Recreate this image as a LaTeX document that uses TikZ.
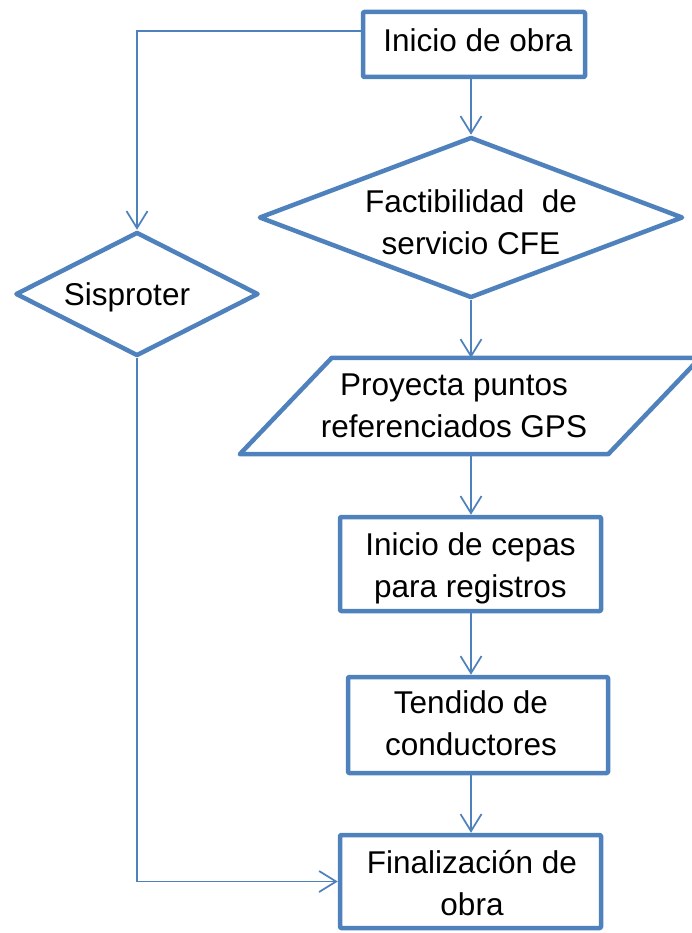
\documentclass[tikz,border=0pt]{standalone}
\usepackage{fontspec}
\setmainfont{Liberation Sans}
\usetikzlibrary{arrows.meta,shapes.geometric}
\definecolor{fcblue}{HTML}{4F81BD}
\tikzset{
  shapeline/.style={draw=fcblue, line width=4.5pt, line join=round},
  boxnode/.style={shapeline, rectangle, rounded corners=1pt, inner sep=0pt},
  decnode/.style={shapeline, diamond, inner sep=0pt},
  txt/.style={font=\fontsize{31.5}{42}\selectfont, align=center, inner sep=0pt, text=black},
  conn/.style={draw=fcblue, line width=1.75pt, -{Straight Barb[length=17pt,width=21pt,line width=1.75pt]}}
}
\begin{document}
\begin{tikzpicture}[x=1pt,y=-1pt]
\useasboundingbox (0,0) rectangle (691,933);

% shapes
\node[boxnode, minimum width=222pt, minimum height=65pt,
      label={[txt, xshift=4pt, yshift=4pt]center:Inicio de obra}] (inicio) at (474,44.5) {};
\node[decnode, aspect=2.63, minimum width=424pt, minimum height=161pt,
      label={[txt, yshift=-4.5pt]center:Factibilidad\ \ de\\servicio CFE}] (fact) at (471,217.5) {};
\node[decnode, aspect=1.96, minimum width=243pt, minimum height=124pt,
      label={[txt, xshift=-10pt, yshift=-3pt]center:Sisproter}] (sis) at (137,294) {};
\node[rectangle, inner sep=0pt, minimum width=368pt, minimum height=96pt,
      label={[txt, xshift=-16pt]center:Proyecta puntos\\referenciados GPS}] (para) at (470,406) {};
\draw[shapeline]
  ([xshift=-46pt]para.south west) -- ([xshift=-46pt]para.south east)
  -- ([xshift=46pt]para.north east) -- ([xshift=46pt]para.north west) -- cycle;
\node[boxnode, minimum width=261pt, minimum height=94pt,
      label={[txt, yshift=-4pt]center:Inicio de cepas\\para registros}] (cepas) at (470.5,564) {};
\node[boxnode, minimum width=260pt, minimum height=96pt,
      label={[txt, xshift=-7pt, yshift=1.5pt]center:Tendido de\\conductores}] (tend) at (478,725) {};
\node[boxnode, minimum width=261pt, minimum height=93pt,
      label={[txt, xshift=1.5pt, yshift=-2pt]center:Finalización de\\obra}] (fin) at (470.5,881.5) {};

% connectors
\draw[conn] (inicio.south -| fact.north) -- (fact.north);
\draw[conn] (fact.south) -- (para.north -| fact.north);
\draw[conn] (para.south -| fact.north) -- (cepas.north -| fact.north);
\draw[conn] (cepas.south -| fact.north) -- (tend.north -| fact.north);
\draw[conn] (tend.south -| fact.north) -- (fin.north -| fact.north);
\draw[conn] ([yshift=13.5pt]inicio.west) -| (sis.north);
\draw[conn] (sis.south) |- (fin.west);
\end{tikzpicture}
\end{document}
